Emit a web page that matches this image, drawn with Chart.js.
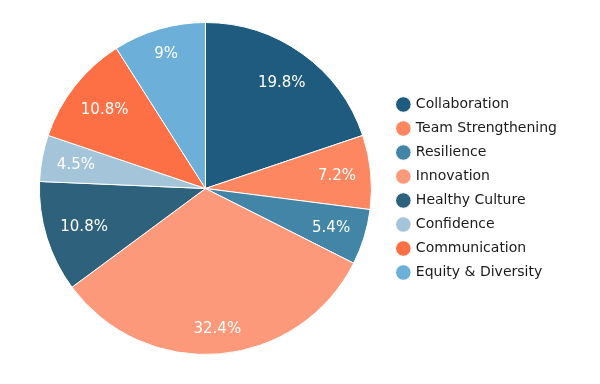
<!DOCTYPE html>
<html>
<head>
<meta charset="utf-8">
<script src="https://cdn.jsdelivr.net/npm/chart.js@4.4.0/dist/chart.umd.min.js"></script>
<style>
  html, body { margin: 0; padding: 0; background: #fff; }
  #wrap { width: 600px; height: 384px; }
</style>
</head>
<body>
<div id="wrap"><canvas id="pieChart" width="600" height="384"></canvas></div>
<script>
// Chart data
const categories = ['Collaboration', 'Team Strengthening', 'Resilience', 'Innovation',
                    'Healthy Culture', 'Confidence', 'Communication', 'Equity & Diversity'];
const counts = [22, 8, 6, 36, 12, 5, 12, 10];
const sliceColors = ['#1e5b7e', '#fc8761', '#4385a6', '#fb997a',
                     '#2d617c', '#a4c4da', '#fd7045', '#6cb0da'];

const total = counts.reduce((a, b) => a + b, 0);

function pctLabel(v) {
    return (Math.round(v / total * 1000) / 10) + '%';
}

// Percent labels inside slices, pushed out as far as the text box fits
const insideLabels = {
    id: 'insideLabels',
    afterDatasetsDraw(chart) {
        const ctx = chart.ctx;
        const meta = chart.getDatasetMeta(0);
        ctx.save();
        ctx.font = '15px "DejaVu Sans", Verdana, sans-serif';
        ctx.fillStyle = '#ffffff';
        ctx.textAlign = 'center';
        ctx.textBaseline = 'middle';
        meta.data.forEach((arc, i) => {
            const p = arc.getProps(['x', 'y', 'startAngle', 'endAngle', 'outerRadius'], true);
            const mid = (p.startAngle + p.endAngle) / 2;
            const ux = Math.cos(mid), uy = Math.sin(mid);
            const text = pctLabel(counts[i]);
            const hw = ctx.measureText(text).width / 2;
            const hh = 8;
            const cx = Math.sign(ux) * hw, cy = Math.sign(uy) * hh;
            const D = p.outerRadius - 14;
            const b = ux * cx + uy * cy;
            const c = cx * cx + cy * cy - D * D;
            const r = -b + Math.sqrt(b * b - c);
            ctx.fillText(text, p.x + ux * r, p.y + uy * r + 1);
        });
        ctx.restore();
    }
};

new Chart(document.getElementById('pieChart'), {
    type: 'pie',
    data: {
        labels: categories,
        datasets: [{
            data: counts,
            backgroundColor: sliceColors,
            borderColor: '#ffffff',
            borderWidth: 1
        }]
    },
    options: {
        responsive: false,
        animation: false,
        layout: {
            padding: { top: 22, bottom: 29, left: 23, right: 33 }
        },
        plugins: {
            legend: {
                position: 'right',
                align: 'center',
                labels: {
                    usePointStyle: true,
                    pointStyle: 'circle',
                    boxWidth: 11,
                    boxHeight: 11,
                    padding: 10,
                    color: '#1a1a1a',
                    font: { family: '"DejaVu Sans", Verdana, sans-serif', size: 14 }
                }
            },
            tooltip: { enabled: false }
        }
    },
    plugins: [insideLabels]
});
</script>
</body>
</html>
